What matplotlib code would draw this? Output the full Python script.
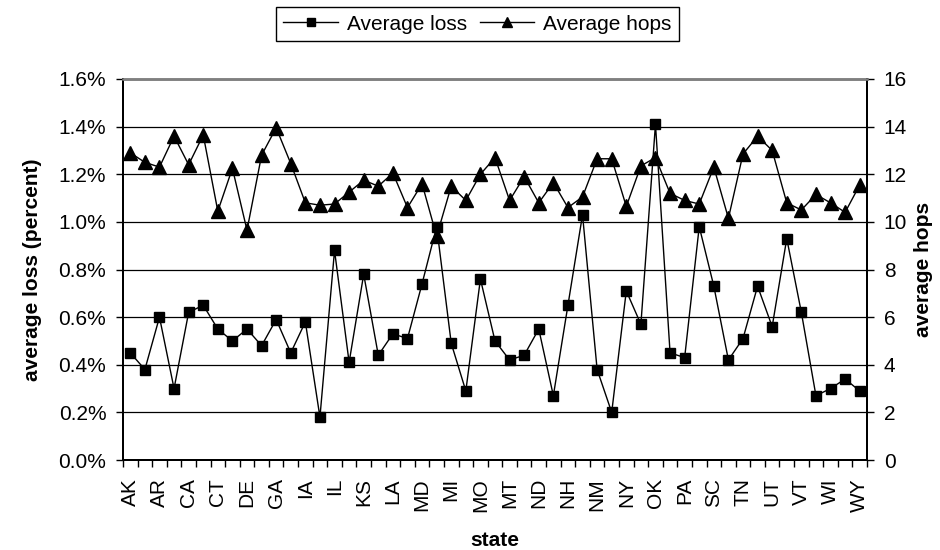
import numpy as np
import matplotlib.pyplot as plt
from matplotlib.ticker import FixedLocator, FuncFormatter, NullFormatter

plt.rcParams['font.family'] = ['Liberation Sans', 'DejaVu Sans']

# --- data: per-state averages ---
states = ["AK", "AL", "AR", "AZ", "CA", "CO", "CT", "DC", "DE", "FL",
          "GA", "HI", "IA", "ID", "IL", "IN", "KS", "KY", "LA", "MA",
          "MD", "ME", "MI", "MN", "MO", "MS", "MT", "NC", "ND", "NE",
          "NH", "NJ", "NM", "NV", "NY", "OH", "OK", "OR", "PA", "RI",
          "SC", "SD", "TN", "TX", "UT", "VA", "VT", "WA", "WI", "WV", "WY"]

# average loss, in percent
avg_loss = [0.45, 0.38, 0.60, 0.30, 0.62, 0.65, 0.55, 0.50, 0.55, 0.48,
            0.59, 0.45, 0.58, 0.18, 0.88, 0.41, 0.78, 0.44, 0.53, 0.51,
            0.74, 0.98, 0.49, 0.29, 0.76, 0.50, 0.42, 0.44, 0.55, 0.27,
            0.65, 1.03, 0.38, 0.20, 0.71, 0.57, 1.41, 0.45, 0.43, 0.98,
            0.73, 0.42, 0.51, 0.73, 0.56, 0.93, 0.62, 0.27, 0.30, 0.34, 0.29]

# average hop count
avg_hops = [12.9, 12.5, 12.3, 13.6, 12.4, 13.65, 10.45, 12.25, 9.65, 12.8,
            13.95, 12.45, 10.8, 10.7, 10.75, 11.25, 11.75, 11.5, 12.05, 10.6,
            11.6, 9.4, 11.5, 10.9, 12.0, 12.7, 10.9, 11.9, 10.8, 11.65,
            10.6, 11.05, 12.65, 12.65, 10.65, 12.35, 12.7, 11.2, 10.9, 10.75,
            12.3, 10.15, 12.85, 13.6, 13.0, 10.8, 10.5, 11.15, 10.8, 10.4, 11.55]

FS = 15
x = np.arange(len(states))

fig = plt.figure(figsize=(9.4, 5.5), dpi=100)
ax = fig.add_axes([123/940, 90/550, 744/940, 381/550])
ax2 = ax.twinx()

# left axis: loss
ax.set_xlim(-0.5, len(states) - 0.5)
ax.set_ylim(0, 1.6)
ax.set_yticks(np.arange(0, 1.61, 0.2))
ax.yaxis.set_major_formatter(FuncFormatter(lambda v, p: f"{v:.1f}%"))
ax.grid(axis='y', color='black', lw=0.9)
ax.set_axisbelow(True)

# category ticks at boundaries, labels on every other state
ax.xaxis.set_major_locator(FixedLocator(np.arange(-0.5, len(states), 1.0)))
ax.xaxis.set_major_formatter(NullFormatter())
ax.xaxis.set_minor_locator(FixedLocator(x[::2]))
ax.set_xticklabels(states[::2], minor=True, rotation=90, fontsize=FS)
ax.tick_params(axis='x', which='major', direction='out', length=5, width=1)
ax.tick_params(axis='x', which='minor', length=0, pad=13)
ax.tick_params(axis='y', direction='out', length=5, width=1, labelsize=FS, pad=7)

ax.plot(x, avg_loss, color='black', lw=1, marker='s', ms=7.5,
        mfc='black', mec='black', label="Average loss")

# right axis: hops
ax2.set_ylim(0, 16)
ax2.set_yticks(np.arange(0, 17, 2))
ax2.tick_params(axis='y', direction='out', length=5, width=1, labelsize=FS, pad=7)
ax2.plot(x, avg_hops, color='black', lw=1, marker='^', ms=9.5,
         mfc='black', mec='black', label="Average hops")

for a in (ax, ax2):
    a.spines['top'].set_color('#808080')
    a.spines['top'].set_linewidth(1.8)
    for s in ('left', 'right', 'bottom'):
        a.spines[s].set_color('black')
        a.spines[s].set_linewidth(1.4)

ax.set_ylabel("average loss (percent)", fontsize=FS, fontweight='bold', labelpad=12)
ax2.set_ylabel("average hops", fontsize=FS, fontweight='bold', labelpad=5)
ax.set_xlabel("state", fontsize=FS, fontweight='bold', labelpad=14)

h1, l1 = ax.get_legend_handles_labels()
h2, l2 = ax2.get_legend_handles_labels()
fig.legend(h1 + h2, l1 + l2, loc='center', bbox_to_anchor=(477.5/940, 1 - 24/550),
           ncol=2, fontsize=FS, frameon=True, fancybox=False, edgecolor='black',
           framealpha=1, borderpad=0.35, handlelength=2.6, handletextpad=0.45,
           columnspacing=0.6, markerscale=0.8)

fig.savefig("out.png", dpi=100)
